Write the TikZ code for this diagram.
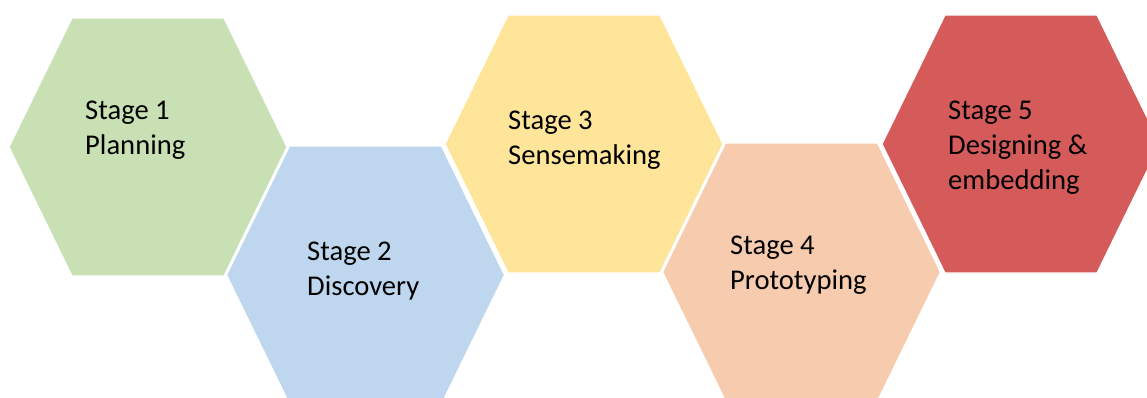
\documentclass[tikz,border=0pt]{standalone}
\usepackage{fontspec}
\setmainfont{Carlito}
\definecolor{hexgreen}{HTML}{C8E0B4}
\definecolor{hexblue}{HTML}{BFD7EE}
\definecolor{hexyellow}{HTML}{FEE599}
\definecolor{hexorange}{HTML}{F7CBAE}
\definecolor{hexred}{HTML}{D55A5A}
\begin{document}
\begin{tikzpicture}[x=1pt,y=-1pt,
        hexa/.style={draw=white,line width=1.2pt},
        stage/.style={anchor=north west,align=left,inner sep=0pt,font=\fontsize{28.6}{35}\selectfont}]
        \clip (0,0) rectangle (1147,397);
        \foreach \cx/\cy/\col in {148/147/hexgreen,365.5/275/hexblue,584/144/hexyellow,801.5/272/hexorange,1021/144/hexred}
        {
            \fill[\col,hexa] (\cx-139,\cy)--(\cx-76,\cy-129)--(\cx+76,\cy-129)--(\cx+139,\cy)--(\cx+76,\cy+129)--(\cx-76,\cy+129)--cycle;
        }
        \node[stage] (planning) at (85,101){Stage 1\\Planning};
        \node[stage] (discovery) at (307,242){Stage 2\\Discovery};
        \node[stage] (sensemaking) at (508,111){Stage 3\\Sensemaking};
        \node[stage] (prototyping) at (730,236){Stage 4\\Prototyping};
        \node[stage] (designing) at (948,101){Stage 5\\Designing \&\\embedding};
    \end{tikzpicture}
\end{document}
